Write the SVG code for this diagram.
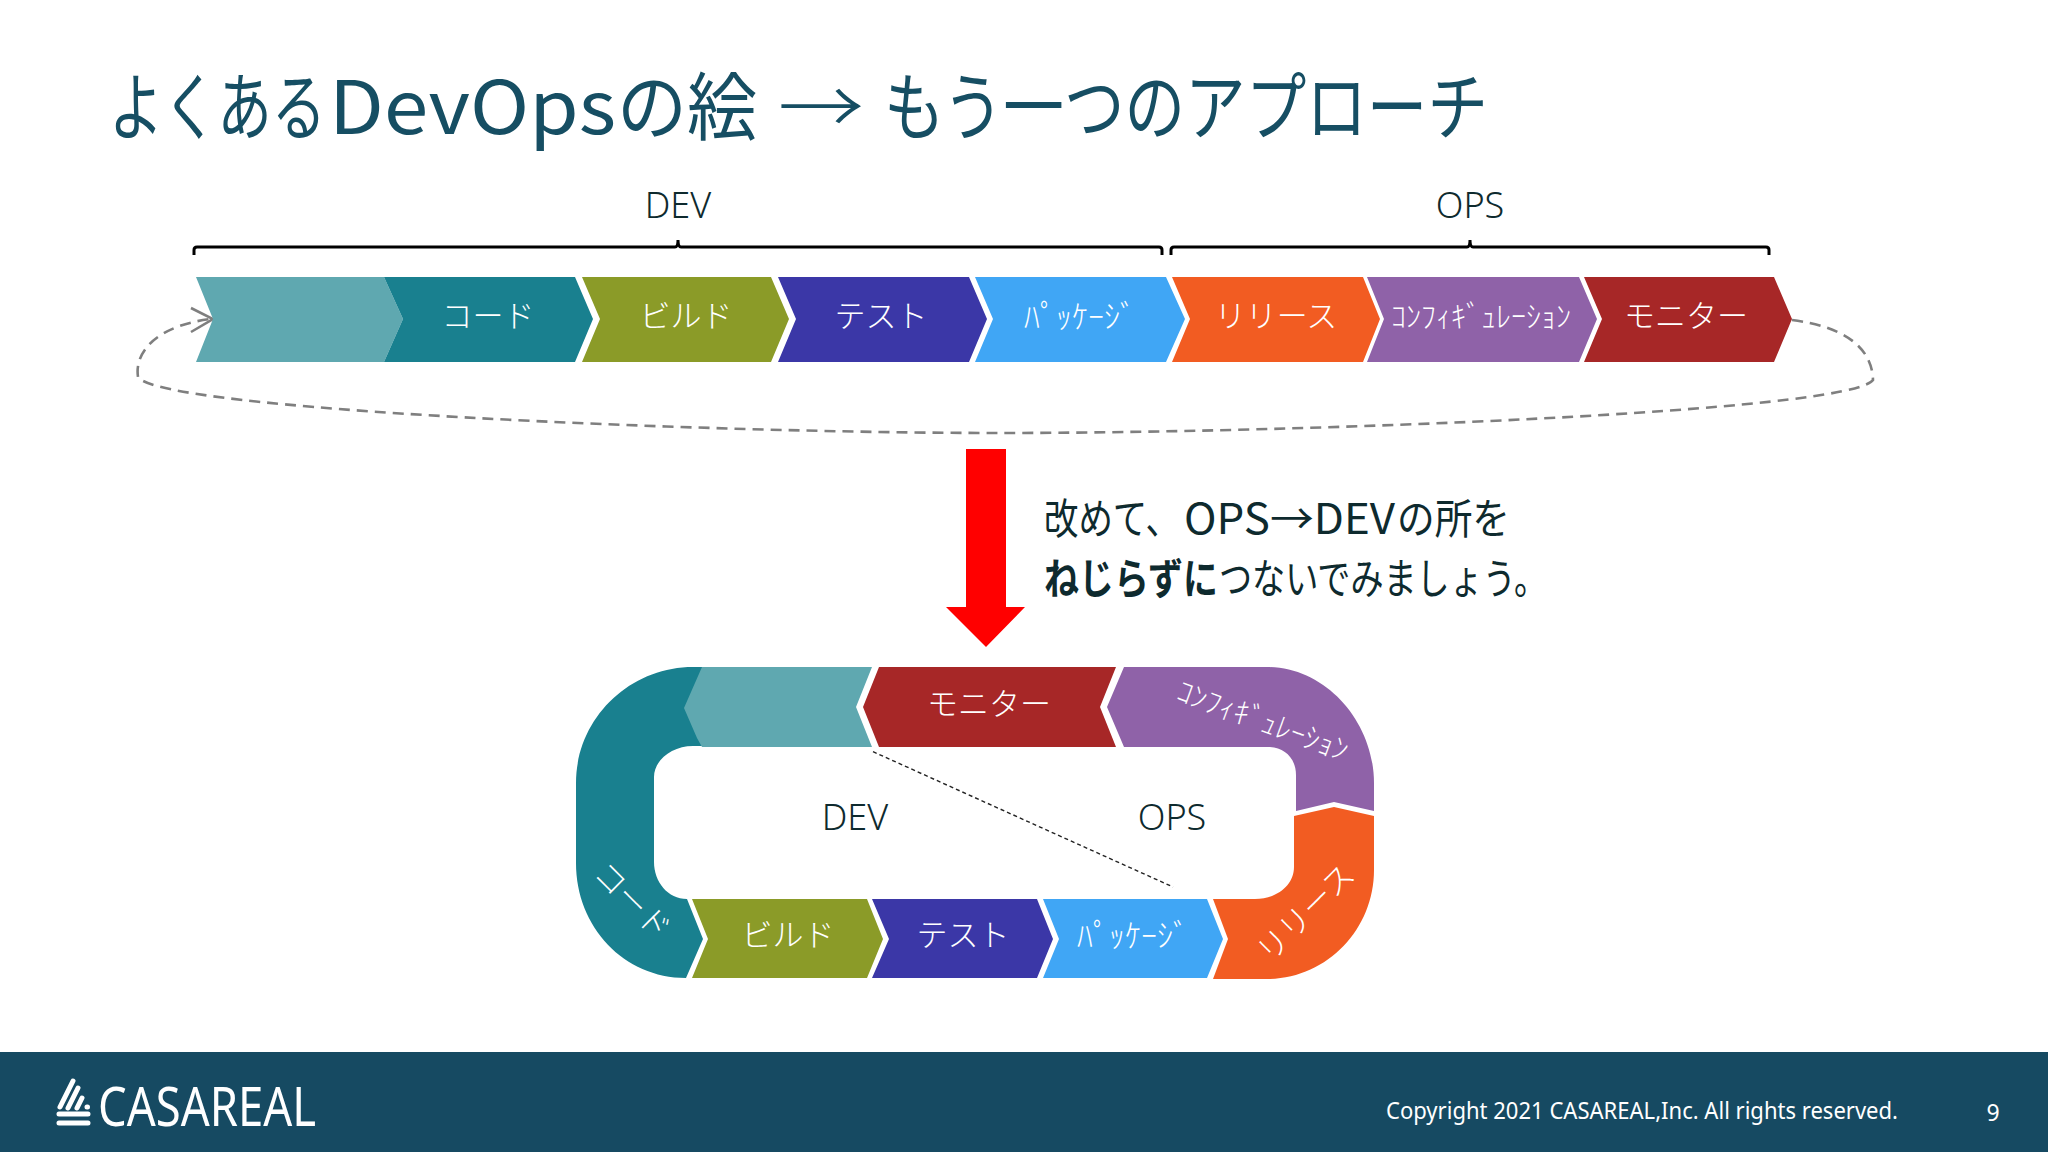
<svg xmlns="http://www.w3.org/2000/svg" width="2048" height="1152" viewBox="0 0 2048 1152">
<style>
text{font-family:"Noto Sans","Noto Sans CJK JP",sans-serif}
.cj{font-family:"Noto Sans CJK JP",sans-serif}
.lb{fill:#fff;font-size:31px;text-anchor:middle;font-weight:300;dominant-baseline:central}
.hw{font-size:30px}
.pk{font-size:32px}
.dk{fill:#0e2a2e;font-size:36px;text-anchor:middle;font-weight:300}
.tl{fill:#19808f}.lt{fill:#5fa8b0}.ol{fill:#8b9b28}.bl{fill:#3b37a7}.sk{fill:#40a6f5}.or{fill:#f25c22}.pu{fill:#8f62a8}.re{fill:#a72727}
.br{fill:none;stroke:#000;stroke-width:3}
.dash{fill:none;stroke:#7f7f7f;stroke-width:2.6}
</style>
<rect width="2048" height="1152" fill="#fff"/>
<text id="title" class="cj" y="134" font-size="74" fill="#164e63" font-weight="400"><tspan x="109" textLength="217" lengthAdjust="spacingAndGlyphs">よくある</tspan><tspan x="329" textLength="287" lengthAdjust="spacingAndGlyphs">DevOps</tspan><tspan x="617" textLength="140" lengthAdjust="spacingAndGlyphs">の絵</tspan><tspan x="760"> </tspan><tspan x="778" textLength="86" lengthAdjust="spacingAndGlyphs" font-weight="300">→</tspan><tspan x="866"> </tspan><tspan x="884" textLength="604" lengthAdjust="spacingAndGlyphs">もう一つのアプローチ</tspan></text>

<g id="connectors">
<path class="br" d="M194 255V250Q194 247 197 247H675Q678 247 678 240Q678 247 681 247H1159Q1162 247 1162 250V255"/>
<path class="br" d="M1171 255V250Q1171 247 1174 247H1467Q1470 247 1470 240Q1470 247 1473 247H1766Q1769 247 1769 250V255"/>
<path class="dash" stroke-dasharray="11 7" d="M1792 320C1840 326 1872 345 1873 380C1850 412 1300 433 1000 433C700 433 160 410 138 377C134 350 160 325 211 319"/>
<path class="dash" d="M191 308L213 319L191 332"/>
<path d="M873 751.700L1173 887" fill="none" stroke="#222" stroke-width="1.400" stroke-dasharray="4 3"/>
</g>

<g id="top-labels">
<text id="dev-top" class="dk" x="678" y="218">DEV</text>
<text id="ops-top" class="dk" x="1470" y="218">OPS</text>
</g>

<g id="strip">
<g id="s-plan"><path class="lt" d="M196 277H384L403 319L384 362H196L213 319Z"/></g>
<g id="s-code"><path class="tl" d="M384 277H575L593 319L575 362H384L403 319Z"/><text class="lb" x="488" y="315">コード</text></g>
<g id="s-build"><path class="ol" d="M582 277H771L789 319L771 362H582L600 319Z"/><text class="lb" x="686" y="315">ビルド</text></g>
<g id="s-test"><path class="bl" d="M778 277H969L987 319L969 362H778L796 319Z"/><text class="lb" x="881" y="315">テスト</text></g>
<g id="s-pkg"><path class="sk" d="M975 277H1166L1185 319L1166 362H975L993 319Z"/><text class="lb pk" x="1080" y="315">ﾊﾟｯｹｰｼﾞ</text></g>
<g id="s-rel"><path class="or" d="M1172 277H1363L1380 319L1363 362H1172L1190 319Z"/><text class="lb" x="1276" y="315">リリース</text></g>
<g id="s-conf"><path class="pu" d="M1367 277H1579L1597 319L1579 362H1367L1384 319Z"/><text class="lb hw" x="1481" y="315">ｺﾝﾌｨｷﾞｭﾚｰｼｮﾝ</text></g>
<g id="s-mon"><path class="re" d="M1584 277H1774L1792 319L1774 362H1584L1602 319Z"/><text class="lb" x="1686" y="315">モニター</text></g>
</g>

<g id="down-arrow"><path fill="#f00" d="M966 449H1006V607H1025L986 647L946 607H966Z"/></g>

<text id="note1" class="cj" y="534" font-size="42" fill="#0e2a2e" font-weight="400"><tspan x="1044" textLength="136" lengthAdjust="spacingAndGlyphs">改めて、</tspan><tspan x="1184" textLength="211" lengthAdjust="spacingAndGlyphs">OPS→DEV</tspan><tspan x="1397" textLength="113" lengthAdjust="spacingAndGlyphs">の所を</tspan></text>
<text id="note2" class="cj" y="594" font-size="42" fill="#0e2a2e" font-weight="400"><tspan x="1044" textLength="174" lengthAdjust="spacingAndGlyphs" font-weight="700">ねじらずに</tspan><tspan x="1219" textLength="328" lengthAdjust="spacingAndGlyphs">つないでみましょう。</tspan></text>

<g id="loop">
<g id="l-code"><path class="tl" d="M702 667H693C629 667 576 719 576 783V863C576 927 624 978 686 978L703 939L687 899C668 899 654 882 654 862V777C654 760 672 746 693 746H702Z"/><text class="lb" transform="translate(633 900) rotate(45)">コード</text></g>
<g id="l-plan"><path class="lt" d="M702 667H872L856 707L872 747H702L697 738L684 708Z"/></g>
<g id="l-mon"><path class="re" d="M879 667H1116L1100 707L1116 747H879L863 707Z"/><text class="lb" x="989" y="703">モニター</text></g>
<g id="l-conf"><path class="pu" d="M1124 667H1267C1326 667 1374 722 1374 783V811L1334 802L1296 811V775C1296 758 1284 747 1268 747H1124L1107 707Z"/><text class="lb hw" transform="translate(1263 720) rotate(20)">ｺﾝﾌｨｷﾞｭﾚｰｼｮﾝ</text></g>
<g id="l-rel"><path class="or" d="M1213 899H1255C1277 899 1294 885 1294 867V816L1334 807L1374 816V870C1374 930 1326 979 1267 979H1213L1228 939Z"/><text class="lb" transform="translate(1305 912) rotate(-45)">リリース</text></g>
<g id="l-build"><path class="ol" d="M692 899H867L883 939L867 978H692L708 939Z"/><text class="lb" x="788" y="934">ビルド</text></g>
<g id="l-test"><path class="bl" d="M872 899H1037L1053 939L1037 978H872L889 939Z"/><text class="lb" x="963" y="934">テスト</text></g>
<g id="l-pkg"><path class="sk" d="M1043 899H1207L1223 939L1207 978H1043L1059 939Z"/><text class="lb pk" x="1133" y="934">ﾊﾟｯｹｰｼﾞ</text></g>
<text id="dev-in" class="dk" x="855" y="830">DEV</text>
<text id="ops-in" class="dk" x="1172" y="830">OPS</text>
</g>

<g id="footer">
<rect y="1052" width="2048" height="100" fill="#164a62"/>
<g id="logo-mark" fill="none" stroke="#fff" stroke-width="5" stroke-linecap="round">
<path d="M59 1114H88M59 1123H88M60 1107L73 1081M68 1108L78 1088M77 1108L82 1098M87 1107H87.500"/>
</g>
<text id="logo" x="98" y="1126" font-size="54" fill="#fff" textLength="218" lengthAdjust="spacingAndGlyphs">CASAREAL</text>
<text id="copy" x="1386" y="1119" font-size="23" fill="#fff" textLength="512" lengthAdjust="spacingAndGlyphs">Copyright 2021 CASAREAL,Inc. All rights reserved.</text>
<text id="page" x="1993" y="1121" font-size="23" fill="#fff" text-anchor="middle">9</text>
</g>
</svg>
